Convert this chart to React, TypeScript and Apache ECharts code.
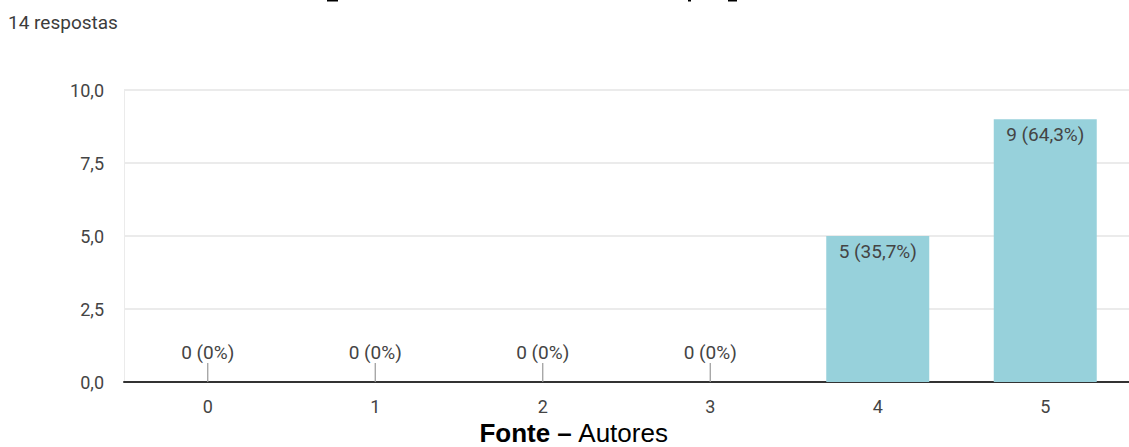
import React, { useEffect, useRef } from "react";
import * as echarts from "echarts";

const categories = ["0", "1", "2", "3", "4", "5"];
const counts = [0, 0, 0, 0, 5, 9];
const yTicks = [0, 2.5, 5, 7.5, 10];
const responsesText = "14 respostas";
const sourceBold = "Fonte –";
const sourceRegular = " Autores";

const total = counts.reduce((a, b) => a + b, 0);
const fmtPct = (v: number) => {
  if (v === 0) return "0%";
  return (Math.round((v / total) * 1000) / 10).toFixed(1).replace(".", ",") + "%";
};

export default function App() {
  const ref = useRef<HTMLDivElement>(null);
  useEffect(() => {
    if (!ref.current) return;
    const chart = echarts.init(ref.current, null, { renderer: "svg" });
    const barData = counts.map((v) => ({
      value: v,
      label:
        v === 0
          ? { position: "top", distance: 20 }
          : { position: "insideTop", distance: 6 },
    }));
    chart.setOption({
      animation: false,
      grid: { left: 124, right: 0, top: 90, bottom: 65 },
      xAxis: {
        type: "category",
        data: categories,
        axisLine: { lineStyle: { color: "#333", width: 2 } },
        axisTick: { show: false },
        axisLabel: { color: "#444", fontFamily: "Roboto", fontSize: 18, margin: 15 },
      },
      yAxis: {
        type: "value",
        min: yTicks[0],
        max: yTicks[yTicks.length - 1],
        interval: 2.5,
        axisLine: { show: true, lineStyle: { color: "#ebebeb", width: 1 } },
        axisTick: { show: false },
        splitLine: { lineStyle: { color: "#ebebeb", width: 2 } },
        axisLabel: {
          color: "#444",
          fontFamily: "Roboto",
          fontSize: 18,
          margin: 20,
          formatter: (v: number) => v.toFixed(1).replace(".", ","),
        },
      },
      series: [
        {
          type: "bar",
          data: barData,
          barWidth: 103,
          itemStyle: { color: "#97d1db" },
          label: {
            show: true,
            color: "#444",
            fontFamily: "Roboto",
            fontSize: 19,
            formatter: (p: any) => `${p.value} (${fmtPct(p.value)})`,
          },
          z: 2,
        },
        {
          type: "custom",
          data: counts.map((v, i) => [i, v]),
          renderItem: (params: any, api: any) => {
            const v = api.value(1);
            if (v !== 0) return null;
            const p = api.coord([api.value(0), 0]);
            return {
              type: "line",
              shape: { x1: p[0], y1: p[1], x2: p[0], y2: p[1] - 19 },
              style: { stroke: "#999", lineWidth: 1.2 },
            };
          },
          z: 3,
        },
      ],
      graphic: [
        {
          type: "text",
          left: 8,
          top: 13,
          style: {
            text: responsesText,
            fill: "#3c3c3c",
            font: "19px Roboto",
          },
        },
        {
          type: "text",
          x: 574,
          y: 433,
          style: {
            text: `{b|${sourceBold}}{r|${sourceRegular}}`,
            align: "center",
            verticalAlign: "middle",
            rich: {
              b: { fontFamily: "Liberation Sans", fontWeight: "bold", fontSize: 26, fill: "#000" },
              r: { fontFamily: "Liberation Sans", fontSize: 26, fill: "#000" },
            },
          },
        },
        { type: "rect", shape: { x: 327, y: 0, width: 11, height: 1.5 }, style: { fill: "#000" } },
        { type: "rect", shape: { x: 728, y: 0, width: 9, height: 1.5 }, style: { fill: "#000" } },
        { type: "rect", shape: { x: 688, y: 0, width: 3, height: 1.5 }, style: { fill: "#000" } },
      ],
    });
    return () => chart.dispose();
  }, []);
  return (
    <div
      ref={ref}
      style={{ position: "absolute", left: 0, top: 0, width: 1129, height: 447, background: "#fff" }}
    />
  );
}
